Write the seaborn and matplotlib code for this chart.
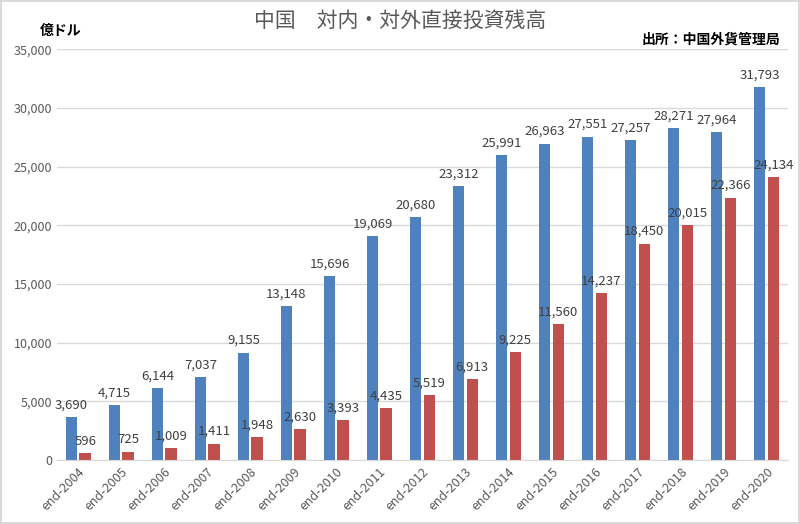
import seaborn as sns
import pandas as pd
import matplotlib.pyplot as plt
from matplotlib.ticker import FuncFormatter

years = ["end-2004", "end-2005", "end-2006", "end-2007", "end-2008", "end-2009",
         "end-2010", "end-2011", "end-2012", "end-2013", "end-2014", "end-2015",
         "end-2016", "end-2017", "end-2018", "end-2019", "end-2020"]
inward = [3690, 4715, 6144, 7037, 9155, 13148, 15696, 19069, 20680, 23312,
          25991, 26963, 27551, 27257, 28271, 27964, 31793]
outward = [596, 725, 1009, 1411, 1948, 2630, 3393, 4435, 5519, 6913,
           9225, 11560, 14237, 18450, 20015, 22366, 24134]
series = ["対内", "対外"]
y_ticks = [0, 5000, 10000, 15000, 20000, 25000, 30000, 35000]

sns.set_style("white")
plt.rcParams["font.family"] = ["Noto Sans CJK JP", "DejaVu Sans"]

df = pd.DataFrame({
    "year": years * 2,
    "value": inward + outward,
    "kind": [series[0]] * len(years) + [series[1]] * len(years),
})

fig = plt.figure(figsize=(8, 5.24), dpi=100)
fig.patch.set_edgecolor("#D9D9D9")
fig.patch.set_linewidth(1.5)
ax = fig.add_axes([0.071, 0.122, 0.914, 0.784])

sns.barplot(data=df, x="year", y="value", hue="kind",
            palette=["#4F81BD", "#C0504D"], width=0.64, gap=0.16,
            legend=False, ax=ax, saturation=1, linewidth=0)

for cont in ax.containers:
    ax.bar_label(cont, labels=[f"{v:,.0f}" for v in cont.datavalues],
                 padding=4, fontsize=9.5, color="#404040")

ax.set_ylim(0, 35000)
ax.set_yticks(y_ticks)
ax.yaxis.set_major_formatter(FuncFormatter(lambda v, p: f"{v:,.0f}"))
ax.set_xlim(-0.5, len(years) - 0.5)
ax.grid(axis="y", color="#D9D9D9", linewidth=1)
ax.set_axisbelow(True)
for s in ["top", "right", "left"]:
    ax.spines[s].set_visible(False)
ax.spines["bottom"].set_color("#D9D9D9")
ax.tick_params(axis="both", length=0, labelsize=9, colors="#595959")
ax.tick_params(axis="x", pad=4)
plt.setp(ax.get_xticklabels(), rotation=45, ha="right", rotation_mode="anchor")
ax.set_xlabel("")
ax.set_ylabel("")

fig.text(0.5, 0.96, "中国　対内・対外直接投資残高", ha="center", va="center",
         fontsize=15, color="#595959")
fig.text(0.05, 0.94, "億ドル", ha="left", va="center", fontsize=10,
         fontweight="bold", color="#000000")
fig.text(0.975, 0.925, "出所：中国外貨管理局", ha="right", va="center",
         fontsize=10, fontweight="bold", color="#000000")

fig.savefig("out.png", dpi=100, edgecolor=fig.get_edgecolor())
